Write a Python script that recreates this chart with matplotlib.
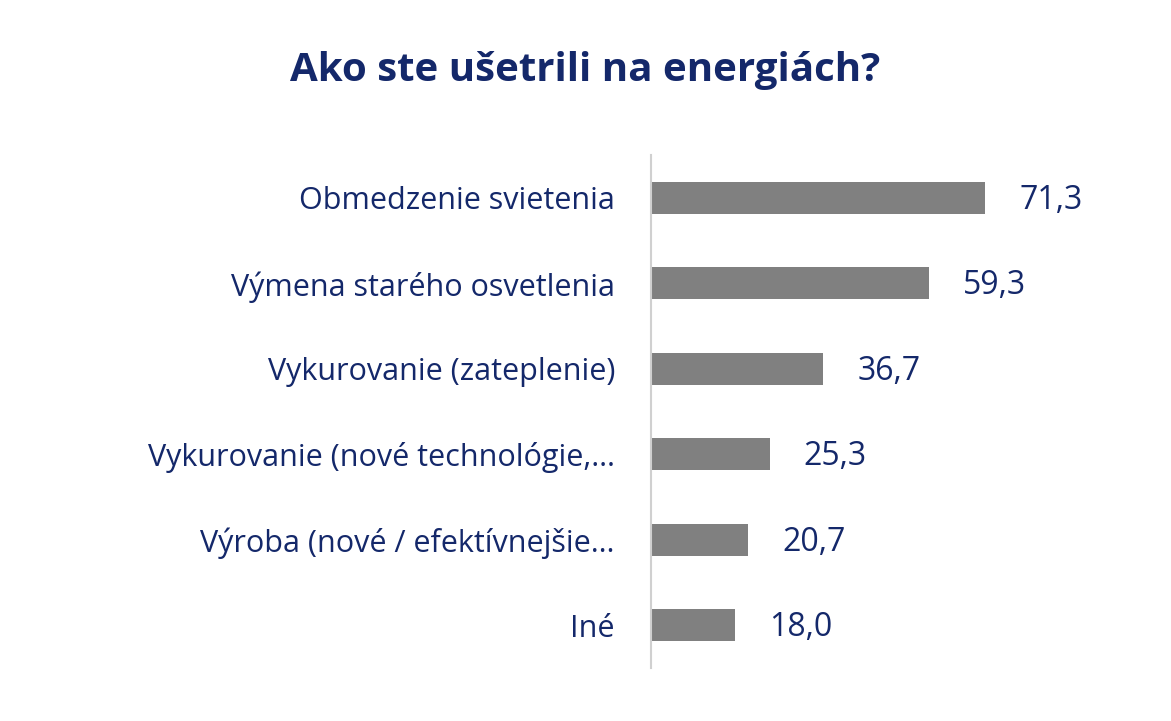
import matplotlib
matplotlib.use("Agg")
import matplotlib.pyplot as plt

categories = ["Obmedzenie svietenia", "Výmena starého osvetlenia", "Vykurovanie (zateplenie)",
              "Vykurovanie (nové technológie,…", "Výroba (nové / efektívnejšie…", "Iné"]
values = [71.3, 59.3, 36.7, 25.3, 20.7, 18.0]
value_labels = ["71,3", "59,3", "36,7", "25,3", "20,7", "18,0"]

navy = "#14286A"
plt.rcParams["font.family"] = "Open Sans"
fig = plt.figure(figsize=(11.71, 7.21), dpi=100)
ax = fig.add_axes([0.556, 0.0735, 0.40, 0.7115])
y = list(range(len(categories)))
ax.barh(y, values, height=0.37, color="#808080")
ax.set_ylim(5.5, -0.5)
ax.set_xlim(0, 100)
for yi, v, t in zip(y, values, value_labels):
    ax.text(v + 7.3, yi + 0.03, t, va="center", ha="left", fontsize=23, color=navy)
ax.set_yticks(y)
ax.set_yticklabels(categories, fontsize=22, color=navy)
ax.tick_params(axis="y", length=0, pad=26)
ax.set_xticks([])
for s in ["top", "right", "bottom"]:
    ax.spines[s].set_visible(False)
ax.spines["left"].set_color("#D0D0D0")
ax.spines["left"].set_linewidth(1.5)
fig.text(0.5, 0.902, "Ako ste ušetrili na energiách?", ha="center", va="center",
         fontsize=29, fontweight="bold", color=navy)
fig.savefig("out.png", dpi=100)
